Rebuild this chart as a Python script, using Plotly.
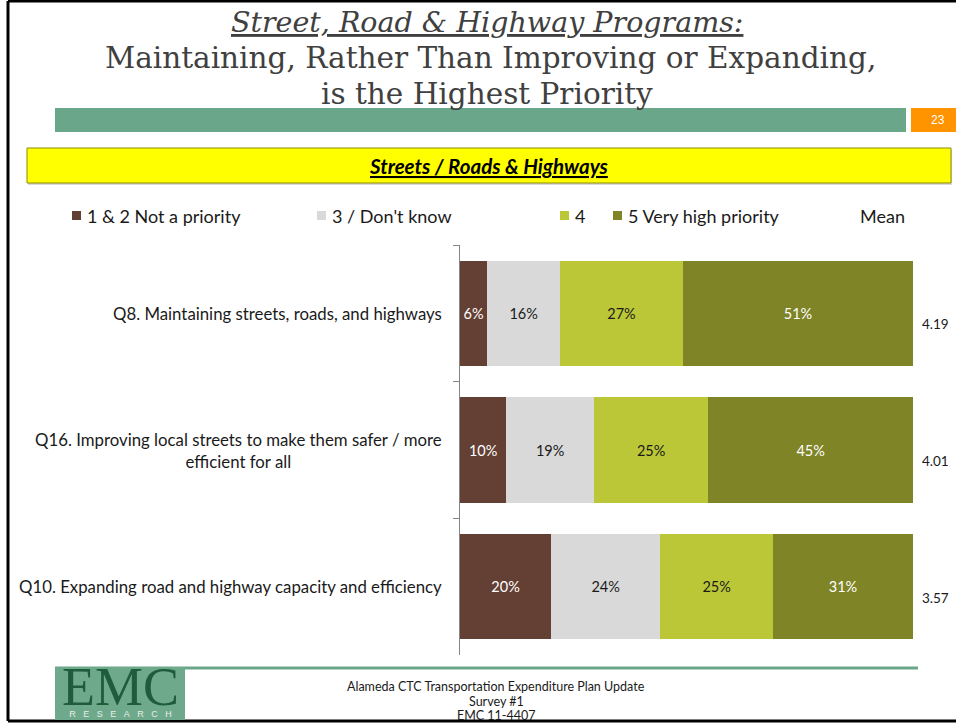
import plotly.graph_objects as go

W, H = 956, 723

# ---- data ----
categories = [
    "Q8. Maintaining streets, roads, and highways",
    "Q16. Improving local streets to make them safer / more<br>efficient for all",
    "Q10. Expanding road and highway capacity and efficiency",
]
series_names = ["1 & 2 Not a priority", "3 / Don't know", "4", "5 Very high priority"]
not_priority = [6.0, 10.2, 20.1]
dont_know = [16.1, 19.4, 24.1]
four = [27.1, 25.2, 24.9]
very_high = [50.8, 45.2, 30.9]
means = [4.19, 4.01, 3.57]

colors = ["#643F33", "#D9D9D9", "#BCC737", "#7F8426"]
text_colors = ["white", "#1a1a1a", "#1a1a1a", "white"]

def px(x):
    return x / W

def py(y):
    return 1 - y / H

def ann(x, y, text, size, family="Lato", color="#1a1a1a", xanchor="center", yanchor="middle", **kw):
    d = dict(xref="paper", yref="paper", x=px(x), y=py(y), text=text, showarrow=False,
             xanchor=xanchor, yanchor=yanchor, font=dict(family=family, size=size, color=color))
    d.update(kw)
    return d

fig = go.Figure()
for name, vals, c, tc in zip(series_names, [not_priority, dont_know, four, very_high], colors, text_colors):
    fig.add_trace(go.Bar(
        name=name, y=categories, x=vals, orientation="h",
        marker=dict(color=c, line=dict(width=0)),
        texttemplate="%{x:.0f}%", textposition="inside", insidetextanchor="middle",
        textfont=dict(family="Lato", size=14.5, color=tc),
        constraintext="none", showlegend=False,
    ))

annotations = []
shapes = []

# category labels
for cat in categories:
    annotations.append(dict(
        xref="paper", yref="y", x=px(444), y=cat, text=cat, showarrow=False,
        xanchor="right", yanchor="middle", align="center",
        font=dict(family="Lato", size=16.8, color="#1a1a1a"),
    ))

# mean values
for cat, m in zip(categories, means):
    annotations.append(dict(
        xref="paper", yref="y", x=px(920), y=cat, text=f"{m:.2f}", showarrow=False,
        xanchor="left", yanchor="middle", yshift=-11,
        font=dict(family="Lato", size=13.5, color="#1a1a1a"),
    ))

# slide frame
shapes.append(dict(type="line", xref="paper", yref="paper", x0=px(8), x1=px(8), y0=py(1), y1=py(721),
                   line=dict(color="black", width=3)))
shapes.append(dict(type="line", xref="paper", yref="paper", x0=px(8), x1=px(960), y0=py(1), y1=py(1),
                   line=dict(color="black", width=3)))
shapes.append(dict(type="line", xref="paper", yref="paper", x0=px(8), x1=px(960), y0=py(721), y1=py(721),
                   line=dict(color="black", width=3)))

# title
annotations.append(ann(487, 22, "<i><u>Street, Road &amp; Highway Programs:</u></i>", 28.5,
                       family="DejaVu Serif", color="#404040"))
annotations.append(ann(491, 58, "Maintaining, Rather Than Improving or Expanding,", 29.5,
                       family="DejaVu Serif", color="#404040"))
annotations.append(ann(487, 94, "is the Highest Priority", 29.5, family="DejaVu Serif", color="#404040"))

# green band + orange page number
shapes.append(dict(type="rect", xref="paper", yref="paper", x0=px(55), x1=px(906), y0=py(108), y1=py(132),
                   fillcolor="#6AA68A", line=dict(width=0)))
shapes.append(dict(type="rect", xref="paper", yref="paper", x0=px(911), x1=px(958), y0=py(108), y1=py(132),
                   fillcolor="#FF9300", line=dict(width=0)))
annotations.append(ann(938, 120, "23", 12, family="Liberation Sans Narrow, Liberation Sans", color="white"))

# yellow subtitle box
shapes.append(dict(type="rect", xref="paper", yref="paper", x0=px(28), x1=px(952), y0=py(150), y1=py(185),
                   fillcolor="#D9D9D9", line=dict(width=0)))
shapes.append(dict(type="rect", xref="paper", yref="paper", x0=px(27), x1=px(951), y0=py(148), y1=py(183),
                   fillcolor="#FFFF00", line=dict(color="#8C8C00", width=1)))
annotations.append(ann(489, 166, "<b><i><u>Streets / Roads &amp; Highways</u></i></b>", 20.5, color="black"))

# legend (manual)
legend_x = [77, 322, 565, 618]
for name, c, lx in zip(series_names, colors, legend_x):
    shapes.append(dict(type="rect", xref="paper", yref="paper", x0=px(lx - 5), x1=px(lx + 4),
                       y0=py(211), y1=py(220), fillcolor=c, line=dict(width=0)))
    annotations.append(ann(lx + 8, 216, name, 18, xanchor="left"))
annotations.append(ann(858, 216, "Mean", 18, xanchor="left"))

# footer
shapes.append(dict(type="line", xref="paper", yref="paper", x0=px(55), x1=px(918), y0=py(668), y1=py(668),
                   line=dict(color="#6AA68A", width=3)))
shapes.append(dict(type="rect", xref="paper", yref="paper", x0=px(55), x1=px(185), y0=py(667), y1=py(720),
                   fillcolor="#6FA98C", line=dict(width=0)))
logo_text = ("<span style='font-size:54px;font-family:Liberation Serif;color:#1E5C3C'>EMC</span><br>"
             "R&nbsp;&nbsp;&nbsp;E&nbsp;&nbsp;&nbsp;S&nbsp;&nbsp;&nbsp;E&nbsp;&nbsp;&nbsp;A&nbsp;&nbsp;&nbsp;"
             "R&nbsp;&nbsp;&nbsp;C&nbsp;&nbsp;&nbsp;H")
annotations.append(ann(120, 721, logo_text, 9, family="Liberation Sans", color="#E6EEE9",
                       yanchor="bottom", align="center"))
annotations.append(ann(496, 686, "Alameda CTC Transportation Expenditure Plan Update", 12.5))
annotations.append(ann(496, 701, "Survey #1", 12.5))
annotations.append(ann(496, 715, "EMC 11-4407", 12.5))

fig.update_layout(
    width=W, height=H, margin=dict(l=0, r=0, t=0, b=0),
    paper_bgcolor="white", plot_bgcolor="white",
    barmode="stack", bargap=0.23,
    xaxis=dict(domain=[px(460), px(913)], range=[0, 100], visible=False, fixedrange=True),
    yaxis=dict(domain=[py(655), py(245)], type="category", autorange="reversed",
               showticklabels=False, showline=True, linecolor="#868686", linewidth=1,
               ticks="outside", tickson="boundaries", ticklen=6, tickcolor="#868686",
               showgrid=False, zeroline=False),
    annotations=annotations, shapes=shapes,
    showlegend=False,
)

fig.write_html("out.html", config={"displayModeBar": False},
               post_script="document.body.style.margin='0';")
